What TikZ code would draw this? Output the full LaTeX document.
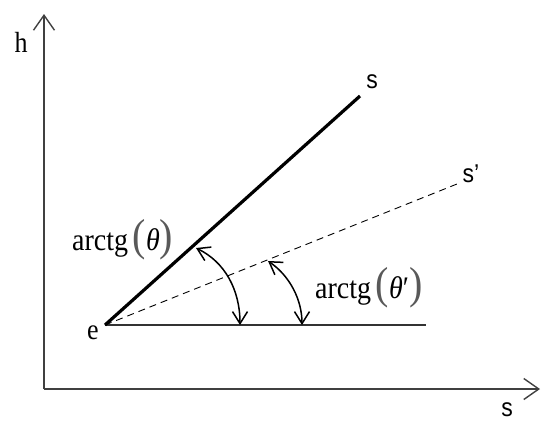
\documentclass[tikz,border=0pt]{standalone}
\usepackage{fontspec}
\usepackage{graphicx}
\setmainfont{Liberation Serif}
\newfontfamily\sansf{Liberation Sans}
\usetikzlibrary{arrows.meta}
\newcommand{\stretchy}[1]{\scalebox{1}[1.12]{#1}}
\newcommand{\bigpar}[1]{{\fontsize{40}{40}\selectfont\color{black!65}#1}}
\begin{document}
\begin{tikzpicture}[x=1pt,y=-1pt,
  axis/.style={line width=1.4pt,-{Straight Barb[length=15pt,width=21pt,line width=1.4pt]}, draw=black!75},
  angarr/.style={line width=1.5pt,{Straight Barb[length=12pt,width=15pt,line width=1.5pt]}-{Straight Barb[length=12pt,width=15pt,line width=1.5pt]}},
  lbl/.style={inner sep=0pt,font=\fontsize{28}{28}\selectfont},
  letter/.style={inner sep=0pt,font=\fontsize{26}{26}\selectfont},
  sletter/.style={inner sep=0pt,font=\sansf\fontsize{23}{23}\selectfont}]
\useasboundingbox (0,0) rectangle (550,421);
\coordinate (O) at (44,389);
\coordinate (H) at (44,14);
\coordinate (S) at (540,389);
\coordinate (e) at (105,325);
\coordinate (base) at (426,325);
\coordinate (s1) at (360,96);
\coordinate (s2) at (457,184);
\coordinate (a1s) at (196,248);
\coordinate (a1e) at (240,325);
\coordinate (a2s) at (268,261);
\coordinate (a2e) at (302,325);
\draw[axis] (O) -- (H);
\draw[axis] (O) -- (S);
\draw[line width=1.2pt, draw=black!80] (e) -- (base);
\draw[line width=3.2pt] (e) -- (s1);
\draw[line width=0.9pt, dash pattern=on 7pt off 5pt] (e) -- (s2);
\draw[angarr] (a1s) .. controls (225,262) and (240,290) .. (a1e);
\draw[angarr] (a2s) .. controls (290,276) and (302,300) .. (a2e);
\node[letter] (hl) at (21,42) {\stretchy{h}};
\node[sletter] (sl) at (507,410) {\stretchy{s}};
\node[letter] (el) at (93,333) {\stretchy{e}};
\node[sletter] (s1l) at (372,82) {\stretchy{s}};
\node[sletter] (s2l) at (471,174) {\stretchy{s’}};
\node[lbl,anchor=west] (t1) at (72,240) {\stretchy{arctg\,\bigpar{(}\textit{θ}\bigpar{)}}};
\node[lbl,anchor=west] (t2) at (315,288) {\stretchy{arctg\,\bigpar{(}\textit{θ}′\bigpar{)}}};
\end{tikzpicture}
\end{document}
